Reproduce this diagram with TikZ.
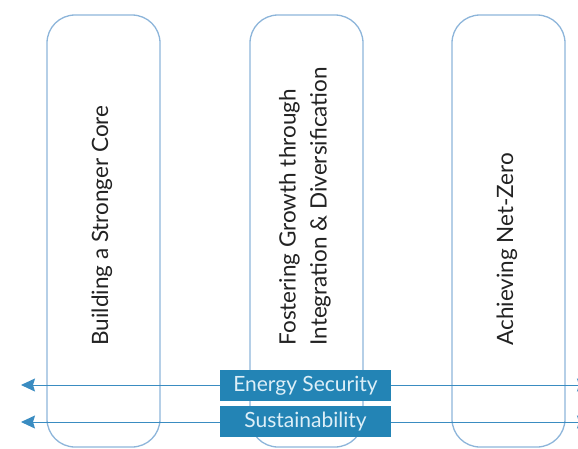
\documentclass[tikz,border=0pt]{standalone}
\usepackage{fontspec}
\setmainfont{Lato}
\usepackage{tikz}
\usetikzlibrary{arrows.meta, positioning}
\definecolor{pillEdge}{HTML}{8DB5DA}
\definecolor{axisBlue}{HTML}{3A8CC1}
\definecolor{tagBlue}{HTML}{2384B5}
\definecolor{tagText}{HTML}{DDEFF8}
\definecolor{pillText}{HTML}{222222}
\tikzset{
  pill/.style={draw=pillEdge, line width=1.3pt, rounded corners=28pt},
  pilltext/.style={rotate=90, anchor=west, align=left, text=pillText, font=\fontsize{22.5}{31}\selectfont},
  axis/.style={draw=axisBlue, line width=1pt, {Stealth[length=14pt, width=13pt, inset=2pt]}-{Stealth[length=14pt, width=13pt, inset=2pt]}},
  tag/.style={fill=tagBlue, text=tagText, minimum width=171pt, minimum height=31pt, inner sep=0pt, font=\fontsize{21}{24}\selectfont}
}
\begin{document}
\begin{tikzpicture}[x=1pt, y=-1pt]
  \useasboundingbox (0,0) rectangle (578,448);
  % pillars
  \foreach \i/\x/\name in {1/47/{Building a Stronger Core}, 2/250/{Fostering Growth through\\Integration \& Diversification}, 3/452/{Achieving Net-Zero}}{
    \draw[pill] (\x,15) rectangle ++(113,432);
    \node[pilltext] (text\i) at (\x+55,349) {\name};
  }
  % axes
  \coordinate (secL) at (21,385);
  \coordinate (secR) at (591,385);
  \coordinate (susL) at (21,422);
  \coordinate (susR) at (591,422);
  \draw[axis] (secL) -- (secR);
  \draw[axis] (susL) -- (susR);
  \node[tag] (security) at (305.5,385.5) {Energy Security};
  \node[tag] (sustain) at (305.5,421.5) {Sustainability};
\end{tikzpicture}
\end{document}
